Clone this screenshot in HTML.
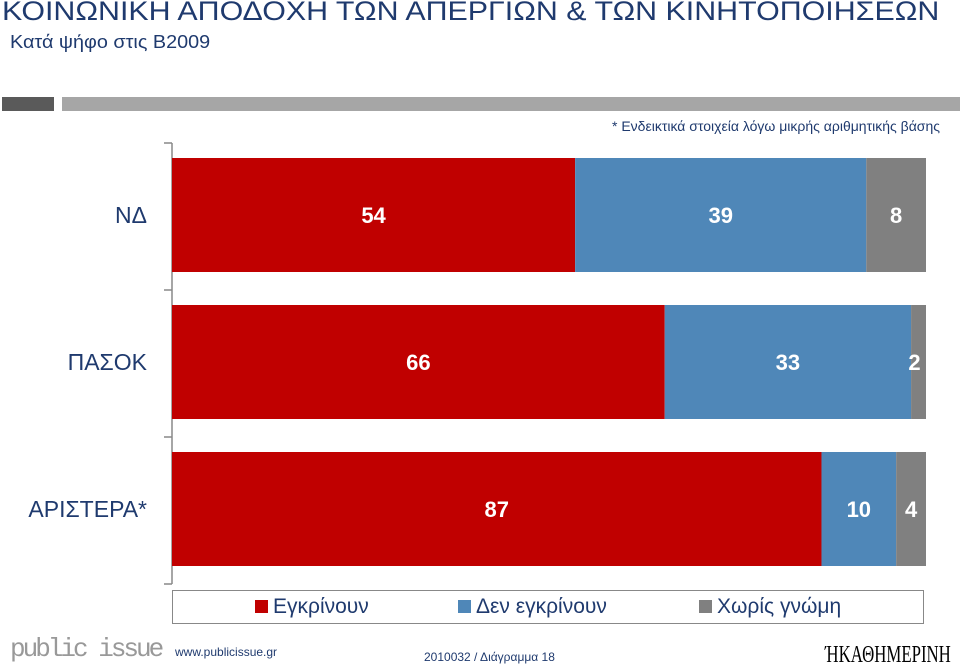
<!DOCTYPE html>
<html><head><meta charset="utf-8"><style>
body{margin:0;width:960px;height:669px;background:#fff;position:relative;overflow:hidden;font-family:"Liberation Sans","DejaVu Sans",sans-serif}
.a{position:absolute;white-space:nowrap}
</style></head><body>
<div class="a" style="left:2px;top:-4px;font-size:27px;color:#1f3a6e;transform:scaleX(1.125);transform-origin:left">ΚΟΙΝΩΝΙΚΗ ΑΠΟΔΟΧΗ ΤΩΝ ΑΠΕΡΓΙΩΝ &amp; ΤΩΝ ΚΙΝΗΤΟΠΟΙΗΣΕΩΝ</div>
<div class="a" style="left:10px;top:32px;font-size:18px;color:#1f3a6e;transform:scaleX(1.1);transform-origin:left">Κατά ψήφο στις Β2009</div>
<div class="a" style="left:2px;top:97px;width:52px;height:14px;background:#5a5a5a"></div>
<div class="a" style="left:62px;top:97px;width:898px;height:14px;background:#a6a6a6"></div>
<div class="a" style="left:612px;top:118px;font-size:14px;color:#1f3a6e">* Ενδεικτικά στοιχεία λόγω μικρής αριθμητικής βάσης</div>
<svg id="chart" class="a" style="left:0;top:0" width="960" height="669"></svg>
<div class="a" style="left:172px;top:590px;width:752px;height:34px;border:1px solid #888;box-sizing:border-box;font-size:21px;color:#1f3a6e">
<span class="a" style="left:82px;top:4px"><span style="display:inline-block;width:13px;height:13px;background:#c00000;margin-right:5px"></span>Εγκρίνουν</span>
<span class="a" style="left:285px;top:4px"><span style="display:inline-block;width:13px;height:13px;background:#4f87b8;margin-right:5px"></span>Δεν εγκρίνουν</span>
<span class="a" style="left:526px;top:4px"><span style="display:inline-block;width:13px;height:13px;background:#808080;margin-right:5px"></span>Χωρίς γνώμη</span>
</div>
<div class="a" style="left:10px;top:634px;font-size:26px;color:#999;font-family:'Liberation Mono',monospace;letter-spacing:-3px">public issue</div>
<div class="a" style="left:175px;top:645px;font-size:12px;color:#1f3a6e">www.publicissue.gr</div>
<div class="a" style="left:424px;top:650px;font-size:12px;color:#1f3a6e">2010032 / Διάγραμμα 18</div>
<div class="a" style="left:825px;top:642px;font-size:24px;font-family:'Liberation Serif',serif;color:#000;transform:scaleX(0.7);transform-origin:left">ΉΚΑΘΗΜΕΡΙΝΗ</div>
<script>
const categories=["ΝΔ","ΠΑΣΟΚ","ΑΡΙΣΤΕΡΑ*"];
const approve=[54,66,87];
const disapprove=[39,33,10];
const noOpinion=[8,2,4];
const seriesColors=["#c00000","#4f87b8","#808080"];
const seriesNames=["approve","disapprove","no-opinion"];
const svg=document.getElementById('chart');
const NS="http://www.w3.org/2000/svg";
const x0=172,xMax=101,plotW=754,top0=143,band=147,barH=114;
function xs(v){return v/xMax*plotW;}
function yb(i){return top0+i*band+15;}
function el(t,a){const e=document.createElementNS(NS,t);for(const k in a)e.setAttribute(k,a[k]);svg.appendChild(e);return e;}
const ax=el('line',{x1:x0,y1:top0,x2:x0,y2:top0+band*3,stroke:'#888','stroke-width':1.5});


for(let i=0;i<=3;i++){const t=el('line',{x1:x0-8,y1:top0+i*band,x2:x0,y2:top0+i*band,stroke:'#888','stroke-width':1.5});

}
const series=[approve,disapprove,noOpinion];
categories.forEach((c,i)=>{
 let acc=0;const y=yb(i);
 const lab=el('text',{x:x0-25,y:y+barH/2+8,'text-anchor':'end','font-size':23,fill:'#1f3a6e'});lab.textContent=c;
 
 
 series.forEach((s,j)=>{
  const v=s[i];const x=x0+xs(acc);const w=xs(v);
  const r=el('rect',{x:x,y:y,width:w,height:barH,fill:seriesColors[j]});
  
  
  const t=el('text',{x:x+w/2,y:y+barH/2+8,'text-anchor':'middle','font-size':22,'font-weight':'bold',fill:'#fff'});t.textContent=v;
  if(w<20){t.setAttribute('x',x+w/2-4);}
  
  
  acc+=v;
 });
});
</script>
</body></html>
